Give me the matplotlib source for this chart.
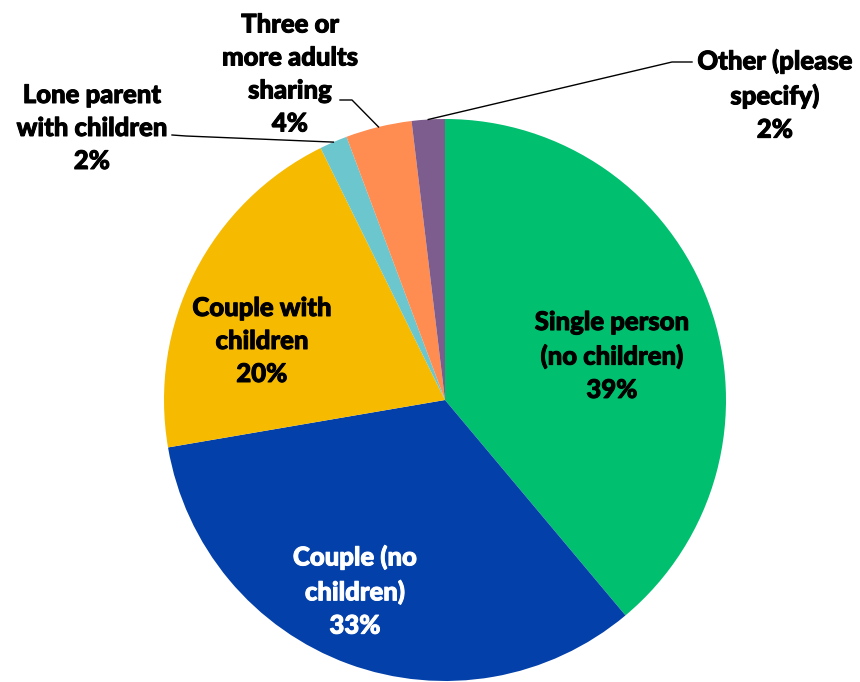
import matplotlib
matplotlib.use("Agg")
import matplotlib.pyplot as plt
import matplotlib.patheffects as pe
import numpy as np

categories = ["Single person\n(no children)", "Couple (no\nchildren)", "Couple with\nchildren",
              "Lone parent\nwith children", "Three or\nmore adults\nsharing", "Other (please\nspecify)"]
values = [38.9, 33.4, 20.4, 1.6, 3.8, 1.9]
pct_labels = ["39%", "33%", "20%", "2%", "4%", "2%"]
colors = ["#00BF6F", "#0340A9", "#F6BA00", "#6CC6CE", "#FF8C50", "#7D5C8E"]
text_colors = ["black", "white", "black", "black", "black", "black"]

W, H = 860, 682
fig = plt.figure(figsize=(W / 100, H / 100), dpi=100)
ax = fig.add_axes([0, 0, 1, 1])
cx, cy, R = 445, 282, 281
wedges, _ = ax.pie(values, startangle=90, counterclock=False, colors=colors,
                   center=(cx, cy), radius=R, wedgeprops=dict(linewidth=0))
ax.set_xlim(0, W)
ax.set_ylim(0, H)
ax.set_aspect("equal")
ax.axis("off")

font = dict(family=["Lato", "DejaVu Sans"], fontweight="black",
            fontsize=18.5, ha="center", va="center", linespacing=1.45)

# label positions (pixel coords, y from bottom)
label_pos = [(612, 326), (355, 91), (262, 341), (92, 554), (290, 608), (775, 587)]
for name, pct, (x, y), tc in zip(categories, pct_labels, label_pos, text_colors):
    ax.text(x, y, f"{name}\n{pct}", color=tc,
            path_effects=[pe.withStroke(linewidth=0.7, foreground=tc)], **font)

# leader lines for small slices
def edge_point(i):
    w = wedges[i]
    ang = np.deg2rad((w.theta1 + w.theta2) / 2)
    return cx + R * np.cos(ang), cy + R * np.sin(ang)

leaders = {3: [(172, 547), (186, 546)], 4: [(340, 582), (352, 582)], 5: [(692, 620), (672, 620)]}
for i, pts in leaders.items():
    ex, ey = edge_point(i)
    xs = [p[0] for p in pts] + [ex]
    ys = [p[1] for p in pts] + [ey]
    ax.plot(xs, ys, color="black", lw=1.0)

fig.savefig("out.png", dpi=100)
